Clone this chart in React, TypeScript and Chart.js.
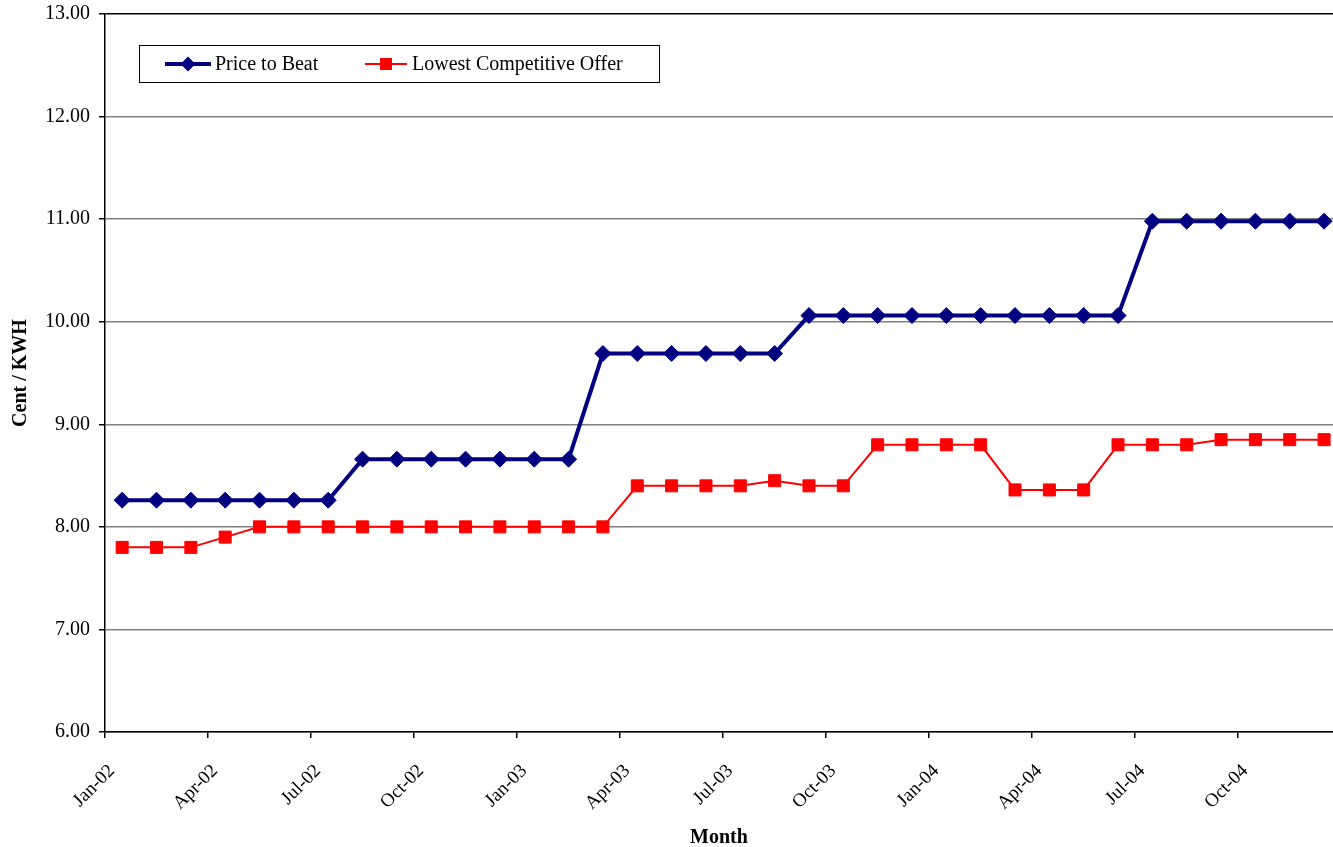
import React, { useEffect, useRef } from "react";
import { Chart, registerables } from "chart.js";

Chart.register(...registerables);

const months = [
  "Jan-02", "Feb-02", "Mar-02", "Apr-02", "May-02", "Jun-02", "Jul-02", "Aug-02", "Sep-02", "Oct-02", "Nov-02", "Dec-02",
  "Jan-03", "Feb-03", "Mar-03", "Apr-03", "May-03", "Jun-03", "Jul-03", "Aug-03", "Sep-03", "Oct-03", "Nov-03", "Dec-03",
  "Jan-04", "Feb-04", "Mar-04", "Apr-04", "May-04", "Jun-04", "Jul-04", "Aug-04", "Sep-04", "Oct-04", "Nov-04", "Dec-04",
];

const priceToBeat = [
  8.26, 8.26, 8.26, 8.26, 8.26, 8.26, 8.26, 8.66, 8.66, 8.66, 8.66, 8.66,
  8.66, 8.66, 9.69, 9.69, 9.69, 9.69, 9.69, 9.69, 10.06, 10.06, 10.06, 10.06,
  10.06, 10.06, 10.06, 10.06, 10.06, 10.06, 10.98, 10.98, 10.98, 10.98, 10.98, 10.98,
];

const lowestOffer = [
  7.8, 7.8, 7.8, 7.9, 8.0, 8.0, 8.0, 8.0, 8.0, 8.0, 8.0, 8.0,
  8.0, 8.0, 8.0, 8.4, 8.4, 8.4, 8.4, 8.45, 8.4, 8.4, 8.8, 8.8,
  8.8, 8.8, 8.36, 8.36, 8.36, 8.8, 8.8, 8.8, 8.85, 8.85, 8.85, 8.85,
];

const seriesNames = ["Price to Beat", "Lowest Competitive Offer"];
const yTitle = "Cent / KWH";
const xTitle = "Month";
const tickEvery = 3;
// the original plot area is cropped a little before the end of the last month
const visibleMonths = 35.76;

const FONT = "'Liberation Serif', 'Times New Roman', serif";

const legendPlugin = {
  id: "boxLegend",
  afterDraw(chart: any) {
    const ctx = chart.ctx;
    const x0 = 139.5, y0 = 45.5, w = 520, h = 37;
    ctx.save();
    ctx.fillStyle = "#ffffff";
    ctx.fillRect(x0, y0, w, h);
    ctx.strokeStyle = "#000000";
    ctx.lineWidth = 1;
    ctx.strokeRect(x0, y0, w, h);
    const cy = y0 + h / 2;
    const items = [
      { lx1: 165, lx2: 211, tx: 215, ds: chart.data.datasets[0] },
      { lx1: 365, lx2: 407, tx: 412, ds: chart.data.datasets[1] },
    ];
    items.forEach((it) => {
      const ds = it.ds;
      ctx.strokeStyle = ds.borderColor;
      ctx.lineWidth = ds.borderWidth;
      ctx.beginPath();
      ctx.moveTo(it.lx1, cy);
      ctx.lineTo(it.lx2, cy);
      ctx.stroke();
      ctx.fillStyle = ds.pointBackgroundColor;
      const cx = (it.lx1 + it.lx2) / 2;
      if (ds.pointStyle === "rectRot") {
        const r = 7.5;
        ctx.beginPath();
        ctx.moveTo(cx, cy - r);
        ctx.lineTo(cx + r, cy);
        ctx.lineTo(cx, cy + r);
        ctx.lineTo(cx - r, cy);
        ctx.closePath();
        ctx.fill();
      } else {
        const s = 6;
        ctx.fillRect(cx - s, cy - s, 2 * s, 2 * s);
      }
      ctx.fillStyle = "#000000";
      ctx.font = `20px ${FONT}`;
      ctx.textBaseline = "middle";
      ctx.textAlign = "left";
      ctx.fillText(ds.label, it.tx, cy + 1);
    });
    ctx.restore();
  },
};

export default function App() {
  const ref = useRef<HTMLCanvasElement | null>(null);

  useEffect(() => {
    document.body.style.margin = "0";
    if (!ref.current) return;
    const chart = new Chart(ref.current, {
      type: "line",
      data: {
        datasets: [
          {
            label: seriesNames[0],
            data: priceToBeat.map((v, i) => ({ x: i + 0.5, y: v })),
            borderColor: "#000080",
            backgroundColor: "#000080",
            pointBackgroundColor: "#000080",
            pointBorderColor: "#000080",
            borderWidth: 4,
            pointStyle: "rectRot",
            pointRadius: 8,
            pointBorderWidth: 1,
            tension: 0,
            clip: false,
          } as any,
          {
            label: seriesNames[1],
            data: lowestOffer.map((v, i) => ({ x: i + 0.5, y: v })),
            borderColor: "#ff0000",
            backgroundColor: "#ff0000",
            pointBackgroundColor: "#ff0000",
            pointBorderColor: "#ff0000",
            borderWidth: 2,
            pointStyle: "rect",
            pointRadius: 8.5,
            pointBorderWidth: 1,
            tension: 0,
            clip: false,
          } as any,
        ],
      },
      options: {
        animation: false,
        responsive: false,
        maintainAspectRatio: false,
        layout: { autoPadding: false, padding: { top: 14, right: 0, left: 0, bottom: 0 } },
        plugins: {
          legend: { display: false },
          tooltip: { enabled: false },
        },
        scales: {
          x: {
            type: "linear",
            min: 0,
            max: visibleMonths,
            afterBuildTicks: (scale: any) => {
              const t = [];
              for (let i = 0; i < months.length; i += tickEvery) t.push({ value: i });
              scale.ticks = t;
            },
            afterFit: (scale: any) => {
              scale.height = 115;
              scale.paddingLeft = 0;
              scale.paddingRight = 0;
            },
            ticks: {
              autoSkip: false,
              minRotation: 45,
              maxRotation: 45,
              color: "#000",
              padding: 22,
              labelOffset: 7,
              font: { family: FONT, size: 19 },
              callback: (v: any) => months[Math.round(Number(v))] ?? "",
            },
            grid: {
              drawOnChartArea: false,
              drawTicks: true,
              tickLength: 6,
              tickColor: "#000",
              lineWidth: 1.5,
            },
            border: { display: true, color: "#000", width: 1.5 },
            title: {
              display: true,
              text: xTitle,
              color: "#000",
              font: { family: FONT, size: 20, weight: "bold" },
              padding: { top: 4, bottom: -3 },
            },
          },
          y: {
            type: "linear",
            min: 6,
            max: 13,
            afterFit: (scale: any) => {
              scale.width = 105;
              scale.paddingTop = 0;
              scale.paddingBottom = 0;
            },
            ticks: {
              stepSize: 1,
              color: "#000",
              padding: 9,
              font: { family: FONT, size: 20 },
              callback: (v: any) => Number(v).toFixed(2),
            },
            grid: {
              color: (c: any) => (c.tick && c.tick.value === 13 ? "#000" : "#808080"),
              lineWidth: 1.5,
              tickLength: 6,
              tickColor: "#000",
            },
            border: { display: true, color: "#000", width: 1.5 },
            title: {
              display: true,
              text: yTitle,
              color: "#000",
              font: { family: FONT, size: 20, weight: "bold" },
              padding: { top: 9, bottom: 0 },
            },
          },
        },
      } as any,
      plugins: [legendPlugin],
    });
    return () => chart.destroy();
  }, []);

  return (
    <div style={{ position: "absolute", left: 0, top: 0, width: 1333, height: 847, background: "#fff" }}>
      <canvas ref={ref} width={1333} height={847} style={{ width: 1333, height: 847, display: "block" }} />
    </div>
  );
}
